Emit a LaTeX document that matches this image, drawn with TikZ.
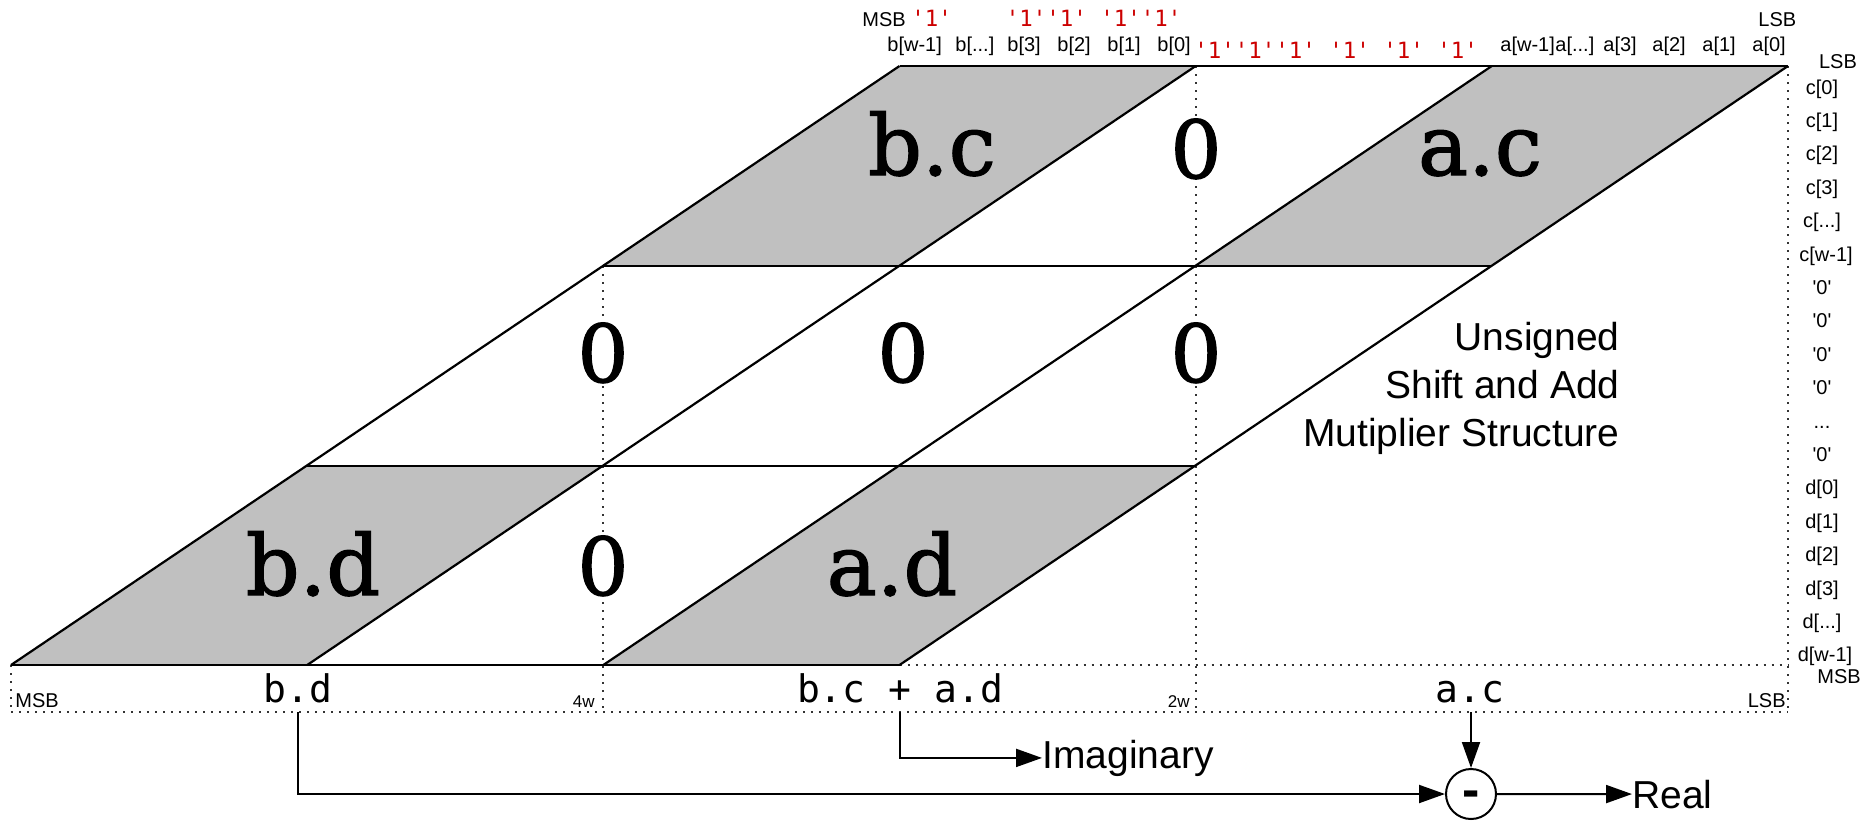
\documentclass[tikz,border=0pt]{standalone}
\usepackage{fontspec}
\newfontfamily\LabFont[Ligatures=TeXOff]{Liberation Sans}
\newfontfamily\MonoFont[Ligatures=TeXOff]{DejaVu Sans Mono}
\newfontfamily\BigFont[FakeBold=1.6]{DejaVu Serif}
\usetikzlibrary{arrows.meta}
\definecolor{cellgray}{RGB}{192,192,192}
\definecolor{bitred}{RGB}{204,0,0}
\begin{document}
\begin{tikzpicture}[x=0.5pt,y=-0.5pt,
  solidline/.style={line width=1.1pt,line join=round,draw=black},
  dotline/.style={line width=1pt,draw=black!80,dash pattern=on 1pt off 3pt},
  small/.style={font=\LabFont\fontsize{10pt}{12pt}\selectfont,inner sep=0pt},
  tiny/.style={font=\LabFont\fontsize{8.5pt}{10pt}\selectfont,inner sep=0pt},
  redbits/.style={font=\MonoFont\fontsize{11.2pt}{13pt}\selectfont,text=bitred,inner sep=0pt},
  big/.style={font=\BigFont\fontsize{42pt}{50pt}\selectfont,inner sep=0pt},
  bigzero/.style={font=\BigFont\fontsize{40pt}{48pt}\selectfont,inner sep=0pt,fill=white},
  sumlab/.style={font=\MonoFont\fontsize{19pt}{22pt}\selectfont,inner sep=0pt},
  note/.style={font=\LabFont\fontsize{19.5pt}{24pt}\selectfont,inner sep=0pt},
  arr/.style={line width=1pt,-{Triangle[length=13pt,width=9pt]}}]
\useasboundingbox (0,0) rectangle (1868,825);
% grid points
\coordinate (p30) at (899.5,66);  \coordinate (p40) at (1195.7,66);
\coordinate (p50) at (1491.8,66); \coordinate (p60) at (1788,66);
\coordinate (p21) at (603.3,266); \coordinate (p31) at (899.5,266);
\coordinate (p41) at (1195.7,266);\coordinate (p51) at (1491.8,266);
\coordinate (p12) at (307.2,466); \coordinate (p22) at (603.3,466);
\coordinate (p32) at (899.5,466); \coordinate (p42) at (1195.7,466);
\coordinate (p03) at (11,665);    \coordinate (p13) at (307.2,665);
\coordinate (p23) at (603.3,665); \coordinate (p33) at (899.5,665);
\coordinate (p63) at (1788,665);
\coordinate (q0) at (11,712);     \coordinate (q2) at (603.3,712);
\coordinate (q4) at (1195.7,712); \coordinate (q6) at (1788,712);
% gray cells
\fill[cellgray] (p21)--(p30)--(p40)--(p31)--cycle;
\fill[cellgray] (p41)--(p50)--(p60)--(p51)--cycle;
\fill[cellgray] (p03)--(p12)--(p22)--(p13)--cycle;
\fill[cellgray] (p23)--(p32)--(p42)--(p33)--cycle;
% dotted guides
\draw[dotline] (p21)--(q2);
\draw[dotline] (p40)--(q4);
\draw[dotline] (p60)--(q6);
\draw[dotline] (p03)--(q0);
\draw[dotline] (p33)--(p63);
\draw[dotline] (q0)--(q6);
% solid grid
\draw[solidline] (p30)--(p60);
\draw[solidline] (p21)--(p51);
\draw[solidline] (p12)--(p42);
\draw[solidline] (p03)--(p33);
\draw[solidline] (p03)--(p30);
\draw[solidline] (p13)--(p40);
\draw[solidline] (p23)--(p50);
\draw[solidline] (p33)--(p60);
% big cell labels
\node[big,anchor=base] (bc) at (932,175) {b.c};
\node[bigzero,anchor=base] (z1) at (1196,178) {0};
\node[big,anchor=base] (ac) at (1480,175) {a.c};
\node[bigzero,anchor=base] (z2) at (603,382) {0};
\node[bigzero,anchor=base] (z3) at (903,382) {0};
\node[bigzero,anchor=base] (z4) at (1196,382) {0};
\node[big,anchor=base] (bd) at (313,595) {b.d};
\node[bigzero,anchor=base] (z5) at (603,595) {0};
\node[big,anchor=base] (ad) at (892,595) {a.d};
% top labels
\node[small,anchor=base west] (tmsb) at (862,26) {MSB};
\node[redbits,anchor=base west] (ra1) at (911,26) {'1'};
\node[redbits,anchor=base west] (ra2) at (1005.5,26) {'1''1'};
\node[redbits,anchor=base west] (ra3) at (1100,26) {'1''1'};
\node[small,anchor=base west] (tlsb) at (1758,26) {LSB};
\node[small,anchor=base west] (b5) at (887,51) {b[w-1]};
\node[small,anchor=base west] (b4) at (955,51) {b[...]};
\node[small,anchor=base west] (b3) at (1007,51) {b[3]};
\node[small,anchor=base west] (b2) at (1057,51) {b[2]};
\node[small,anchor=base west] (b1) at (1107,51) {b[1]};
\node[small,anchor=base west] (b0) at (1157,51) {b[0]};
\node[redbits,anchor=base west] (rb1) at (1194,58) {'1''1''1'};
\node[redbits,anchor=base west] (rb2) at (1329,58) {'1'};
\node[redbits,anchor=base west] (rb3) at (1383,58) {'1'};
\node[redbits,anchor=base west] (rb4) at (1437,58) {'1'};
\node[small,anchor=base west] (a5) at (1500,51) {a[w-1]};
\node[small,anchor=base west] (a4) at (1555,51) {a[...]};
\node[small,anchor=base west] (a3) at (1603,51) {a[3]};
\node[small,anchor=base west] (a2) at (1652,51) {a[2]};
\node[small,anchor=base west] (a1) at (1702,51) {a[1]};
\node[small,anchor=base west] (a0) at (1752,51) {a[0]};
% right column
\node[small,anchor=base] (rlsb) at (1838,68) {LSB};
\node[small,anchor=base] (rc0) at (1822,94) {c[0]};
\node[small,anchor=base] (rc1) at (1822,127.4) {c[1]};
\node[small,anchor=base] (rc2) at (1822,160.8) {c[2]};
\node[small,anchor=base] (rc3) at (1822,194.2) {c[3]};
\node[small,anchor=base] (rcx) at (1822,227.6) {c[...]};
\node[small,anchor=base] (rcw) at (1826,261) {c[w-1]};
\node[small,anchor=base] (rz1) at (1822,294.4) {'0'};
\node[small,anchor=base] (rz2) at (1822,327.8) {'0'};
\node[small,anchor=base] (rz3) at (1822,361.2) {'0'};
\node[small,anchor=base] (rz4) at (1822,394.6) {'0'};
\node[small,anchor=base] (rzd) at (1822,428) {...};
\node[small,anchor=base] (rz5) at (1822,461.4) {'0'};
\node[small,anchor=base] (rd0) at (1822,494.8) {d[0]};
\node[small,anchor=base] (rd1) at (1822,528.2) {d[1]};
\node[small,anchor=base] (rd2) at (1822,561.6) {d[2]};
\node[small,anchor=base] (rd3) at (1822,595) {d[3]};
\node[small,anchor=base] (rdx) at (1822,628.4) {d[...]};
\node[small,anchor=base] (rdw) at (1825,661.8) {d[w-1]};
\node[small,anchor=base] (rmsb) at (1839,683) {MSB};
% bottom band
\node[small,anchor=base west] (bmsb) at (15,707) {MSB};
\node[tiny,anchor=base east] (w4) at (595,707) {4w};
\node[tiny,anchor=base east] (w2) at (1190,707) {2w};
\node[small,anchor=base east] (blsb) at (1786,707) {LSB};
\node[sumlab,anchor=base] (sbd) at (298,702) {b.d};
\node[sumlab,anchor=base] (sim) at (900,702) {b.c + a.d};
\node[sumlab,anchor=base] (sac) at (1470,702) {a.c};
% note
\node[note,anchor=base east] (n1) at (1620,350) {Unsigned};
\node[note,anchor=base east] (n2) at (1620,398) {Shift and Add};
\node[note,anchor=base east] (n3) at (1620,446) {Mutiplier Structure};
% outputs
\coordinate (bdout) at (298,712);
\coordinate (imout) at (900,712);
\coordinate (acout) at (1471,712);
\node[draw,circle,line width=1pt,minimum size=25pt,inner sep=0pt] (minus) at (1471,794) {};
\node[font=\LabFont\bfseries\fontsize{26pt}{26pt}\selectfont,inner sep=0pt,yshift=-2.7pt] (minussign) at (minus.center) {-};
\node[note,anchor=base west] (imag) at (1042,768) {Imaginary};
\node[note,anchor=base west] (real) at (1632,808) {Real};
\draw[arr] (bdout) |- (minus.west);
\draw[arr] (imout) |- (imag.west);
\draw[arr] (acout) -- (minus.north);
\draw[arr] (minus.east) -- (real.west);
\end{tikzpicture}
\end{document}
